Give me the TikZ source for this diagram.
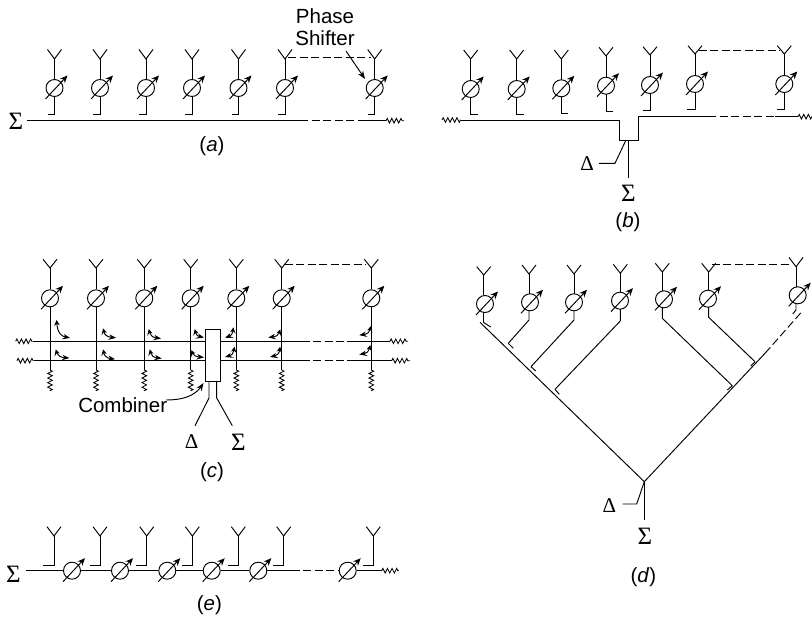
\documentclass[tikz,border=0pt]{standalone}
\usepackage{fontspec}
\setmainfont{Liberation Sans}
\newfontfamily\greekserif{Liberation Serif}
\usetikzlibrary{arrows.meta,bending,decorations.pathmorphing}
\tikzset{
  wire/.style={line width=0.95pt,line join=miter},
  dashwire/.style={wire,dash pattern=on 8pt off 3.5pt},
  shifter/.style={circle,draw,line width=0.95pt,minimum size=17pt,inner sep=0pt},
  tune/.style={line width=0.95pt,-{Stealth[length=7.5pt,width=6.5pt]},shorten <=0pt},
  load/.style={line width=0.85pt,decorate,decoration={zigzag,segment length=4.6pt,amplitude=2.3pt}},
  lead/.style={line width=0.95pt,-{Stealth[length=8pt,width=6pt]}},
  coupler/.style={line width=0.95pt,{Stealth[length=5.5pt,width=5.5pt,bend]}-{Stealth[length=7pt,width=5.5pt,bend]}},
  lab/.style={font=\fontsize{20.5}{22}\selectfont,inner sep=0pt,align=center},
  sym/.style={font=\fontsize{25}{25}\greekserif\selectfont,inner sep=0pt},
  symd/.style={font=\fontsize{21}{21}\greekserif\selectfont,inner sep=0pt},
}
% element: name, stem x, top y, junction y, circle x, circle y, bottom y, foot end x, foot end y
\newcommand\radiator[9]{%
  \node[shifter] (#1) at (#5,#6) {};
  \draw[wire] (#2-7,#3) -- (#2,#4) -- (#2+7,#3);
  \draw[wire] (#2,#4) -- (#2,#6-8.5);
  \draw[wire] (#2,#6+8.5) -- (#2,#7) -- (#8,#9);
  \draw[tune] (#5-9,#6+11) -- (#5+13,#6-12.5);
}
\newcommand\knob[2]{\draw[tune] (#1-9,#2+11) -- (#1+13,#2-12.5);}
\begin{document}
\begin{tikzpicture}[x=1pt,y=-1pt]
\useasboundingbox (0,0) rectangle (812,617);
%%%%% (a)
\foreach \i/\x in {1/54.5,2/100,3/146,4/192,5/238.5,6/285,7/374.7}{
  \radiator{a\i}{\x}{49.5}{59}{\x}{88}{114}{\x-7}{114}
}
\coordinate (aDashL) at (288,57); \coordinate (aDashR) at (371,57);
\draw[dashwire] (aDashL) -- (aDashR);
\node[sym] (aSum) at (16,121) {Σ};
\coordinate (aBusA) at (27,120.7); \coordinate (aBusB) at (300,120.7);
\coordinate (aBusC) at (358,120.7); \coordinate (aBusD) at (386,120.7); \coordinate (aBusE) at (404,120.7);
\draw[wire] (aBusA) -- (aBusB);
\draw[dashwire] (aBusB) -- (aBusC);
\draw[wire] (aBusC) -- (aBusD);
\draw[load] (aBusD) -- (aBusE);
\node[lab] (aPS) at (325,27) {Phase\\[0pt]Shifter};
\coordinate (aLeader) at (346,51);
\draw[lead] (aLeader) -- (365,79);
\node[lab] (aCap) at (212,146) {(\textit{a})};
%%%%% (b)
\radiator{b1}{470.7}{50}{59}{470.7}{89}{114}{477.7}{114}
\radiator{b2}{516.7}{50}{59}{516.7}{89}{114}{524}{114}
\radiator{b3}{561.3}{50}{59}{561.3}{88.3}{113.3}{568}{113.3}
\radiator{b4}{606}{47.3}{56}{606}{85.7}{111}{613}{111}
\radiator{b5}{650}{46.7}{55}{650}{85}{110}{642.7}{110}
\radiator{b6}{695}{45.7}{54}{695}{84}{109.3}{687}{109.3}
\radiator{b7}{784.3}{45.7}{54}{784.3}{84}{109.3}{776.7}{109.3}
\coordinate (bDashL) at (698.7,50); \coordinate (bDashR) at (780,50);
\draw[dashwire] (bDashL) -- (bDashR);
\coordinate (bL0) at (442,120); \coordinate (bL1) at (460.7,120);
\coordinate (bR0) at (708,116.7); \coordinate (bR1) at (775,116.7); \coordinate (bR2) at (798,116.7); \coordinate (bR3) at (812,116.7);
\draw[load] (bL0) -- (bL1);
\draw[wire] (bL1) -- (619,120) -- (619,140) -- (638.3,140) -- (638.3,116.7) -- (bR0);
\draw[dashwire] (bR0) -- (bR1);
\draw[wire] (bR1) -- (bR2);
\draw[load] (bR2) -- (bR3);
\node[sym] (bSum) at (628.5,193) {Σ};
\node[symd] (bDel) at (587,164) {Δ};
\draw[wire] (628.3,140) -- (628.3,177.7);
\draw[wire] (626,140) -- (615,163.3) -- (599,163.3);
\node[lab] (bCap) at (628,222) {(\textit{b})};
%%%%% (c)
\foreach \i/\x in {1/50,2/96,3/144.3,4/190.7,5/236.3,6/281.7,7/371.3}{
  \node[shifter] (c\i) at (\x,298.3) {};
  \draw[wire] (\x-7,259.3) -- (\x,268) -- (\x+7,259.3);
  \draw[wire] (\x,268) -- (c\i.north);
  \draw[wire] (c\i.south) -- (\x,370);
  \draw[load] (\x,370) -- (\x,391);
  \knob{\x}{298.3}
}
\coordinate (cDashL) at (284.5,264); \coordinate (cDashR) at (366,264);
\draw[dashwire] (cDashL) -- (cDashR);
\node[draw,line width=0.95pt,minimum width=15pt,minimum height=51.7pt,inner sep=0pt,fill=white] (cComb) at (212.5,355.8) {};
\draw[load] (15.7,341.3) -- (32.7,341.3);
\draw[load] (17,360.7) -- (33.7,360.7);
\draw[wire] (32.7,341.3) -- (cComb.west |- 0,341.3);
\draw[wire] (33.7,360.7) -- (cComb.west |- 0,360.7);
\draw[wire] (cComb.east |- 0,341.3) -- (301.7,341.3);
\draw[wire] (cComb.east |- 0,360.7) -- (301.7,360.7);
\draw[dashwire] (301.7,341.3) -- (346.7,341.3);
\draw[dashwire] (301.7,360.7) -- (346.7,360.7);
\draw[wire] (346.7,341.3) -- (390,341.3);
\draw[wire] (346.7,360.7) -- (391.7,360.7);
\draw[load] (390,341.3) -- (408,341.3);
\draw[load] (391.7,360.7) -- (410,360.7);
\foreach \xa/\ya/\xb/\yb in {
 56.7/320/70/337.7, 56/349.3/69.3/358,
 103.3/328.3/116/337.7, 103.3/349.3/115/359,
 149/329/161/338.3, 150/349.3/161.7/358.3,
 195/329/204/337.3, 191.7/350/204/357.3,
 233.3/327.3/225/337.3, 234.3/346.7/225/356.7,
 280/329.3/268.3/337.3, 280/346.7/270/356.7,
 370.7/326/359.3/335, 370/345/359.3/354.3}{
  \draw[coupler] (\xa,\ya) .. controls ({\xa},{\ya+0.75*(\yb-\ya)}) and ({\xa+0.35*(\xb-\xa)},\yb) .. (\xb,\yb);
}
\draw[wire] (209,381.7) -- (209,398) -- (195,425.7);
\draw[wire] (216.7,381.7) -- (216.7,398) -- (232.3,425.7);
\node[symd] (cDel) at (191.7,442) {Δ};
\node[sym] (cSum) at (238.3,442) {Σ};
\node[lab] (cText) at (122.7,405) {Combiner};
\coordinate (cLeadS) at (166,400);
\draw[lead] (cLeadS) .. controls (185,400) and (197,395) .. (203.5,383);
\node[lab] (cCap) at (212,472) {(\textit{c})};
%%%%% (d)
\radiator{d1}{483.7}{266.7}{275}{485}{304}{322}{483.7}{322}
\radiator{d2}{529}{265}{274}{530}{302.3}{320}{508.3}{343.3}
\radiator{d3}{574}{265}{274}{574}{302.3}{320}{531}{366.7}
\radiator{d4}{620.3}{264.3}{273.3}{620}{300.7}{321}{555}{389.3}
\radiator{d5}{662.3}{263.3}{272}{664}{299.3}{318.3}{732.3}{385.7}
\radiator{d6}{708.7}{263.3}{272}{708}{298.7}{317.3}{755}{361.7}
\radiator{d7}{796}{257.5}{266.7}{797.7}{295.3}{310}{792.7}{314}
\draw[wire] (483.3,322.3) -- (490.7,327);
\draw[wire] (508.3,343.3) -- (513.3,348.3);
\draw[wire] (531,366.7) -- (535.7,371);
\draw[wire] (555,389.3) -- (559.3,394.3);
\draw[wire] (732.3,385.7) -- (727.3,390);
\draw[wire] (755,361.7) -- (750.7,366);
\coordinate (dApex) at (644.3,481.7);
\coordinate (dTopL) at (480,322.3);
\coordinate (dSolidR) at (765,353.3);
\coordinate (dEndR) at (802.7,310.7);
\draw[wire] (dTopL) -- (dApex) -- (dSolidR);
\draw[dashwire] (dSolidR) -- (dEndR);
\coordinate (dDashL) at (711.7,264); \coordinate (dDashR) at (791.7,264);
\draw[dashwire] (dDashL) -- (dDashR);
\coordinate (dFoot) at (644.3,520);
\draw[wire] (dApex) -- (dFoot);
\draw[wire] (dApex) -- (636.7,504) -- (622.7,504);
\node[symd] (dDel) at (609.3,506) {Δ};
\node[sym] (dSum) at (645,536.7) {Σ};
\node[lab] (dCap) at (643.3,577) {(\textit{d})};
%%%%% (e)
\foreach \i/\x/\fx in {1/54/43.3,2/100/89.5,3/146.7/136,4/192.3/181.5,5/238.3/227.5,6/283.7/273,7/373.3/362.5}{
  \draw[wire] (\x-7,526.7) -- (\x,536) -- (\x+7,526.7);
  \draw[wire] (\x,536) -- (\x,565) -- (\fx,565);
}
\foreach \i/\cx in {1/72,2/120,3/167.3,4/211.7,5/258.3,6/347.7}{
  \node[shifter] (e\i) at (\cx,570.7) {};
  \knob{\cx}{570.7}
}
\node[sym] (eSum) at (13.5,574) {Σ};
\coordinate (eStart) at (26,570.7);
\coordinate (eD1) at (291.7,570.7); \coordinate (eR0) at (381.7,570.7); \coordinate (eR1) at (399,570.7);
\draw[wire] (eStart) -- (e1) (e1) -- (e2) (e2) -- (e3) (e3) -- (e4) (e4) -- (e5);
\draw[wire] (e5) -- (eD1);
\draw[dashwire] (eD1) -- (e6.west);
\draw[wire] (e6) -- (eR0);
\draw[load] (eR0) -- (eR1);
\node[lab] (eCap) at (209.3,605) {(\textit{e})};
\end{tikzpicture}
\end{document}
